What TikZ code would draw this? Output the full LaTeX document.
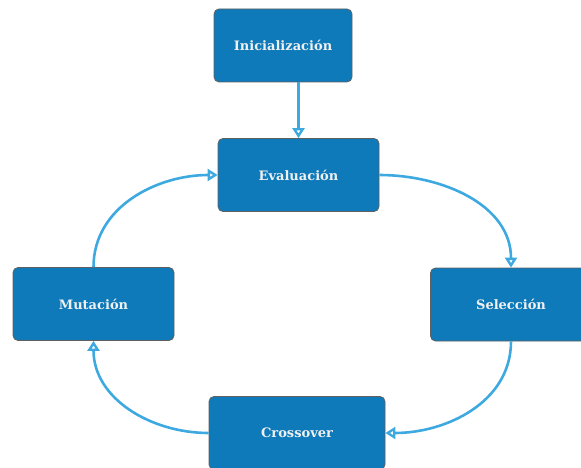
\documentclass[tikz,border=0pt]{standalone}
\usepackage{fontspec}
\setmainfont{DejaVu Serif}
\usetikzlibrary{arrows.meta}
\definecolor{boxblue}{RGB}{14,122,186}
\definecolor{boxline}{RGB}{96,96,96}
\definecolor{flowblue}{RGB}{62,169,224}
\begin{document}
\begin{tikzpicture}[x=1pt,y=-1pt]

        \useasboundingbox (0,0) rectangle (581,468);

        \begin{scope}[every node/.style={rectangle, rounded corners=5pt, draw=boxline, line width=0.8pt,
            fill=boxblue, text=white!94!black, font=\fontsize{13}{15}\selectfont\bfseries,
            minimum height=73pt, inner sep=0pt}]
          \node[minimum width=138pt] (ini)   at (283,45.5) {Inicialización};
          \node[minimum width=161pt] (eval)  at (298.5,175) {Evaluación};
          \node[minimum width=161pt] (sel)   at (511,304.5) {Selección};
          \node[minimum width=176pt] (cross) at (297,433) {Crossover};
          \node[minimum width=161pt] (mut)   at (93.5,304) {Mutación};
        \end{scope}

        \begin{scope}[every edge/.style={draw=flowblue, line width=2.6pt,
            -{Triangle[open, width=12pt, length=10pt, line width=2.4pt]}}]
          \path (ini.south -| eval.north) edge (eval.north);
          \path (eval) edge[out=0, in=90] (sel);
          \path (sel)  edge[out=-90, in=0] (cross);
          \path (cross) edge[out=180, in=-90] (mut);
          \path (mut)  edge[out=90, in=180] (eval);
        \end{scope}

      \end{tikzpicture}
\end{document}
